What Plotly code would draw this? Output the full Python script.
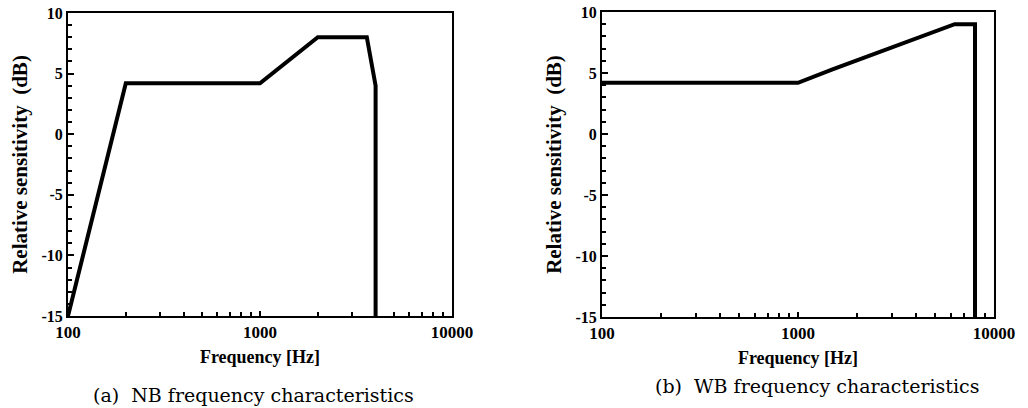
import plotly.graph_objects as go

# NB (a) frequency characteristics
nb_freq = [100, 200, 1000, 2000, 3600, 4000, 4000]
nb_db = [-15, 4.2, 4.2, 8.0, 8.0, 4.0, -15]

# WB (b) frequency characteristics
wb_freq = [100, 1000, 1500, 6300, 8000, 8000]
wb_db = [4.2, 4.2, 5.3, 9.0, 9.0, -15]

y_tick_vals = [-15, -10, -5, 0, 5, 10]
y_tick_text = ["-15", "-10", "-5", "0", "5", "10"]
x_tick_vals = [100, 1000, 10000]
x_tick_text = ["100", "1000", "10000"]
x_minor_vals = [200, 300, 400, 500, 600, 700, 800, 900,
                2000, 3000, 4000, 5000, 6000, 7000, 8000, 9000]

captions = ["(a)  NB frequency characteristics", "(b)  WB frequency characteristics"]
x_title = "Frequency [Hz]"
y_title = "Relative sensitivity  (dB)"

SERIF = "Liberation Serif, Times New Roman, serif"

W, H = 1028, 408


def fx(p):
    return p / W


def fy(p):
    return 1 - p / H


fig = go.Figure()
fig.add_trace(go.Scatter(x=nb_freq, y=nb_db, mode="lines",
                         line=dict(color="black", width=4), xaxis="x", yaxis="y",
                         showlegend=False, hoverinfo="skip"))
fig.add_trace(go.Scatter(x=wb_freq, y=wb_db, mode="lines",
                         line=dict(color="black", width=4), xaxis="x2", yaxis="y2",
                         showlegend=False, hoverinfo="skip"))


def xax(domain, anchor):
    return dict(type="log", domain=domain, anchor=anchor, range=[2, 4],
                tickvals=x_tick_vals, ticktext=["<b>" + t + "</b>" for t in x_tick_text],
                ticks="inside", ticklen=5, tickwidth=1.5, tickcolor="black",
                minor=dict(tickvals=x_minor_vals, ticks="inside", ticklen=4,
                           tickwidth=1.5, tickcolor="black", showgrid=False),
                showline=True, linecolor="black", linewidth=2, mirror=True,
                showgrid=False, zeroline=False, automargin=False,
                tickfont=dict(family=SERIF, size=17, color="black"),
                title=dict(text="<b>" + x_title + "</b>", standoff=9,
                           font=dict(family=SERIF, size=18, color="black")))


def yax(domain, anchor):
    return dict(domain=domain, anchor=anchor, range=[-15, 10],
                tickvals=y_tick_vals, ticktext=["<b>" + t + "</b>" for t in y_tick_text],
                ticks="inside", ticklen=6, tickwidth=1.5, tickcolor="black",
                minor=dict(dtick=1, ticks="inside", ticklen=4, tickwidth=1.5,
                           tickcolor="black", showgrid=False),
                showline=True, linecolor="black", linewidth=2, mirror=True,
                showgrid=False, zeroline=False, ticklabelstandoff=0, automargin=False,
                tickfont=dict(family=SERIF, size=16, color="black"),
                title=dict(text="<b>" + y_title + "</b>", standoff=8,
                           font=dict(family=SERIF, size=21, color="black")))


fig.update_layout(
    width=W, height=H,
    margin=dict(l=0, r=0, t=0, b=0),
    paper_bgcolor="white", plot_bgcolor="white",
    xaxis=xax([fx(68), fx(452)], "y"),
    yaxis=yax([fy(316), fy(13)], "x"),
    xaxis2=xax([fx(602), fx(994)], "y2"),
    yaxis2=yax([fy(317), fy(12)], "x2"),
    annotations=[
        dict(text=captions[0], x=fx(253), y=fy(395), xref="paper", yref="paper",
             showarrow=False, xanchor="center", yanchor="middle",
             font=dict(family="DejaVu Serif", size=19, color="black")),
        dict(text=captions[1], x=fx(817), y=fy(386), xref="paper", yref="paper",
             showarrow=False, xanchor="center", yanchor="middle",
             font=dict(family="DejaVu Serif", size=19, color="black")),
    ],
)

fig.write_html("out.html",
               config={"displayModeBar": False},
               post_script="document.body.style.margin='0px';"
                           "document.body.style.overflow='hidden';")
